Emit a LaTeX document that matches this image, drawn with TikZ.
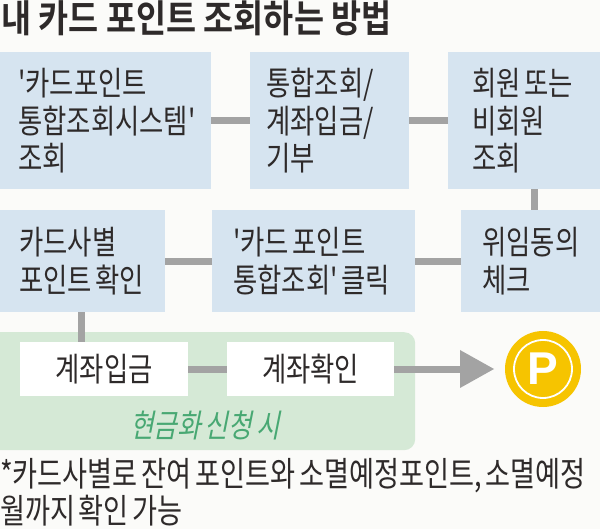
\documentclass[tikz,border=0pt]{standalone}
\usepackage{fontspec}
\newfontfamily\krbody[FakeStretch=0.8,WordSpace=0.6]{Noto Sans CJK KR}
\newfontfamily\krnote[FakeStretch=0.8,WordSpace=0.6]{Noto Sans CJK KR}
\newfontfamily\krtitle[FakeStretch=0.86]{Noto Sans CJK KR Bold}
\newfontfamily\krslant[FakeStretch=0.8,FakeSlant=0.2,WordSpace=0.7]{Noto Sans CJK KR}
\newfontfamily\plogo{Liberation Sans Bold}
\definecolor{bluebox}{HTML}{D6E4F0}
\definecolor{greenbox}{HTML}{D5E9D6}
\definecolor{linegray}{HTML}{A3A3A3}
\definecolor{inktext}{HTML}{2E2A2A}
\definecolor{greentext}{HTML}{48A873}
\definecolor{coin}{HTML}{F6C400}
\definecolor{paper}{HTML}{FBFBF9}
\newcommand{\pad}[1]{\hspace*{#1pt}}
\tikzset{
  bodyfont/.style={font=\krbody\fontsize{33}{37.5}\selectfont},
  bluenode/.style={fill=bluebox,draw=none,inner sep=0pt,anchor=north west,align=flush left,text=inktext,bodyfont},
  whitenode/.style={fill=white,draw=none,inner sep=0pt,anchor=north west,align=center,text=inktext,bodyfont},
  link/.style={draw=linegray,line width=7pt},
}
\begin{document}
\begin{tikzpicture}[x=1pt,y=-1pt]
\useasboundingbox (0,0) rectangle (600,529);
\fill[paper] (0,0) rectangle (600,529);
\node[anchor=west,inner sep=0pt,text=inktext,font=\krtitle\fontsize{38}{40}\selectfont] (title) at (1,18) {내 카드 포인트 조회하는 방법};
% first row
\node[bluenode,text width=211pt,minimum height=137pt] (a) at (0,52) {\pad{18}'카드포인트\\\pad{18}통합조회시스템'\\\pad{18}조회};
\node[bluenode,text width=159pt,minimum height=137pt] (b) at (250,52) {\pad{16}통합조회/\\\pad{16}계좌입금/\\\pad{16}기부};
\node[bluenode,text width=152pt,minimum height=137pt] (c) at (448,52) {\pad{24}회원 또는\\\pad{24}비회원\\\pad{24}조회};
% second row
\node[bluenode,text width=165pt,minimum height=102pt] (d) at (0,210) {\pad{19}카드사별\\\pad{19}포인트 확인};
\node[bluenode,text width=203pt,minimum height=102pt] (e) at (212,210) {\pad{21}'카드 포인트\\\pad{21}통합조회' 클릭};
\node[bluenode,text width=139pt,minimum height=102pt] (f) at (461,210) {\pad{21}위임동의\\\pad{21}체크};
% green panel
\node[fill=greenbox,draw=none,rounded corners=11pt,inner sep=0pt,anchor=north west,minimum width=430pt,minimum height=118pt] (panel) at (-15,332) {};
\node[whitenode,minimum width=168pt,minimum height=54pt] (g) at (20,342) {계좌입금};
\node[whitenode,minimum width=167pt,minimum height=54pt] (h) at (227,342) {계좌확인};
\node[inner sep=0pt,text=greentext,font=\krslant\fontsize{32}{36}\selectfont] (cash) at (205,425) {현금화 신청 시};
% coin
\node[circle,fill=coin,draw=none,minimum size=76pt,inner sep=0pt] (coin) at (543,369) {};
\node[circle,draw=white,line width=1.8pt,minimum size=58pt,inner sep=0pt,text=white,font=\plogo\fontsize{46}{46}\selectfont] (p) at (543,369) {P};
% connectors
\draw[link] (a) -- (b);
\draw[link] (b) -- (c);
\draw[link] (f) -- (e);
\draw[link] (e) -- (d);
\coordinate (vright) at (534.5,0);
\coordinate (vleft) at (81,0);
\draw[link] (vright |- c.south) -- (vright |- f.north);
\draw[link] (vleft |- d.south) -- (vleft |- g.north);
\draw[link] (g) -- (h);
\coordinate (headbase) at (460,369);
\coordinate (headtip) at (494,369);
\draw[link] (h.east) -- (h.east -| headbase);
\fill[linegray] (headtip) -- (460,350) -- (460,388) -- cycle;
% footnote
\node[anchor=north west,inner sep=0pt,align=left,text=inktext,font=\krnote\fontsize{34}{37}\selectfont] (note) at (0,458) {*카드사별로 잔여 포인트와 소멸예정포인트, 소멸예정\\월까지 확인 가능};
\end{tikzpicture}
\end{document}
